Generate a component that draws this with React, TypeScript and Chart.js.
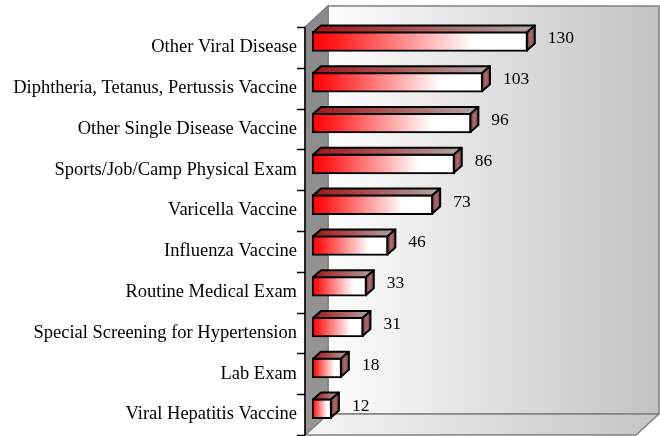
import React, { useEffect, useRef } from "react";
import { Chart, registerables } from "chart.js";

Chart.register(...registerables);

const categories = [
  "Other Viral Disease",
  "Diphtheria, Tetanus, Pertussis Vaccine",
  "Other Single Disease Vaccine",
  "Sports/Job/Camp Physical Exam",
  "Varicella Vaccine",
  "Influenza Vaccine",
  "Routine Medical Exam",
  "Special Screening for Hypertension",
  "Lab Exam",
  "Viral Hepatitis Vaccine",
];
const values = [130, 103, 96, 86, 73, 46, 33, 31, 18, 12];
const axisMax = 200;

const FONT = '"Liberation Serif", "Times New Roman", serif';

const wallPlugin = {
  id: "walls3d",
  beforeDatasetsDraw(chart: any) {
    const ctx = chart.ctx;
    const { left, top, bottom, right } = chart.chartArea;
    const fx0 = left - 7;
    const fy0 = top + 6;
    const fy1 = bottom + 6;
    const fx1 = right - 8;
    const dx = 23;
    const dy = -21;
    ctx.save();
    // back wall
    const bg = ctx.createLinearGradient(fx0 + dx, 0, fx1 + dx, 0);
    bg.addColorStop(0, "#fdfdfd");
    bg.addColorStop(1, "#c2c2c2");
    ctx.fillStyle = bg;
    ctx.fillRect(fx0 + dx, fy0 + dy, fx1 - fx0, fy1 - fy0);
    ctx.strokeStyle = "#808080";
    ctx.lineWidth = 1.5;
    ctx.strokeRect(fx0 + dx, fy0 + dy, fx1 - fx0, fy1 - fy0);
    // floor
    const fg = ctx.createLinearGradient(fx0, 0, fx1 + dx, 0);
    fg.addColorStop(0, "#f6f6f6");
    fg.addColorStop(1, "#c4c4c4");
    ctx.beginPath();
    ctx.moveTo(fx0, fy1);
    ctx.lineTo(fx0 + dx, fy1 + dy);
    ctx.lineTo(fx1 + dx, fy1 + dy);
    ctx.lineTo(fx1, fy1);
    ctx.closePath();
    ctx.fillStyle = fg;
    ctx.fill();
    ctx.stroke();
    // left wall
    const lg = ctx.createLinearGradient(0, fy0, 0, fy1);
    lg.addColorStop(0, "#8a8a8a");
    lg.addColorStop(1, "#969696");
    ctx.beginPath();
    ctx.moveTo(fx0, fy0);
    ctx.lineTo(fx0 + dx, fy0 + dy);
    ctx.lineTo(fx0 + dx, fy1 + dy);
    ctx.lineTo(fx0, fy1);
    ctx.closePath();
    ctx.fillStyle = lg;
    ctx.fill();
    ctx.stroke();
    // axis line and ticks
    ctx.strokeStyle = "#000000";
    ctx.lineWidth = 1.5;
    ctx.beginPath();
    ctx.moveTo(fx0, fy0);
    ctx.lineTo(fx0, fy1);
    const n = categories.length;
    const band = (fy1 - fy0) / n;
    for (let i = 0; i <= n; i++) {
      const yy = Math.round(fy0 + i * band) + 0.5;
      ctx.moveTo(fx0 - 8, yy);
      ctx.lineTo(fx0, yy);
    }
    ctx.stroke();
    ctx.restore();
  },
  afterDatasetsDraw(chart: any) {
    const ctx = chart.ctx;
    const meta = chart.getDatasetMeta(0);
    const ddx = 8;
    const ddy = -7;
    ctx.save();
    meta.data.forEach((el: any, i: number) => {
      const p = el.getProps(["x", "y", "base", "height"], true);
      const t = p.y - p.height / 2 + 1;
      const b = p.y + p.height / 2 - 1;
      const l = p.base + 1;
      const r = p.x - 1;
      // top face
      const tg = ctx.createLinearGradient(l, 0, r + ddx, 0);
      tg.addColorStop(0, "#a01616");
      tg.addColorStop(0.5, "#aa5a5a");
      tg.addColorStop(1, "#b0a6a6");
      ctx.beginPath();
      ctx.moveTo(l, t);
      ctx.lineTo(l + ddx, t + ddy);
      ctx.lineTo(r + ddx, t + ddy);
      ctx.lineTo(r, t);
      ctx.closePath();
      ctx.fillStyle = tg;
      ctx.fill();
      ctx.strokeStyle = "#000";
      ctx.lineWidth = 2;
      ctx.lineJoin = "round";
      ctx.stroke();
      // side face
      const sg = ctx.createLinearGradient(r, 0, r + ddx, 0);
      sg.addColorStop(0, "#7a3434");
      sg.addColorStop(0.5, "#a87070");
      sg.addColorStop(1, "#7a3c3c");
      ctx.beginPath();
      ctx.moveTo(r, t);
      ctx.lineTo(r + ddx, t + ddy);
      ctx.lineTo(r + ddx, b + ddy);
      ctx.lineTo(r, b);
      ctx.closePath();
      ctx.fillStyle = sg;
      ctx.fill();
      ctx.stroke();
      // value label
      ctx.fillStyle = "#000";
      ctx.font = `17.5px ${FONT}`;
      ctx.textAlign = "left";
      ctx.textBaseline = "middle";
      ctx.fillText(String(values[i]), r + ddx + 13, p.y - 2.5);
    });
    ctx.restore();
  },
};

export default function App() {
  const ref = useRef<HTMLCanvasElement | null>(null);
  useEffect(() => {
    document.body.style.margin = "0";
    const canvas = ref.current;
    if (!canvas) return;
    const chart = new Chart(canvas, {
      type: "bar",
      data: {
        labels: categories,
        datasets: [
          {
            data: values,
            borderColor: "#000000",
            borderWidth: 2,
            borderSkipped: false,
            barThickness: 20,
            backgroundColor: (c: any) => {
              const ch = c.chart;
              const xs = ch.scales && ch.scales.x;
              if (!xs || c.dataIndex === undefined || !ch.chartArea) return "#ff4040";
              const x0 = xs.getPixelForValue(0);
              const x1 = xs.getPixelForValue(values[c.dataIndex]);
              if (!isFinite(x0) || !isFinite(x1) || x1 <= x0) return "#ff4040";
              const g = ch.ctx.createLinearGradient(x0, 0, x1, 0);
              g.addColorStop(0, "#ff0000");
              g.addColorStop(0.12, "#ff2020");
              g.addColorStop(0.75, "#ffffff");
              g.addColorStop(1, "#ffffff");
              return g;
            },
          },
        ],
      },
      options: {
        indexAxis: "y",
        responsive: false,
        animation: false,
        layout: { padding: { left: 0, top: 21, bottom: 7, right: 16 } },
        plugins: {
          legend: { display: false },
          tooltip: { enabled: false },
        },
        scales: {
          x: {
            display: false,
            min: 0,
            max: axisMax,
          },
          y: {
            grid: { display: false },
            border: { display: false },
            ticks: {
              autoSkip: false,
              padding: 7,
              labelOffset: 6,
              color: "#000000",
              font: { family: FONT, size: 18.5 },
            },
            afterFit: (s: any) => {
              s.width = 312;
              s.paddingTop = 0;
              s.paddingBottom = 0;
            },
          },
        },
      },
      plugins: [wallPlugin],
    });
    return () => chart.destroy();
  }, []);
  return (
    <div style={{ width: 660, height: 436 }}>
      <canvas ref={ref} width={660} height={436} style={{ display: "block" }} />
    </div>
  );
}
